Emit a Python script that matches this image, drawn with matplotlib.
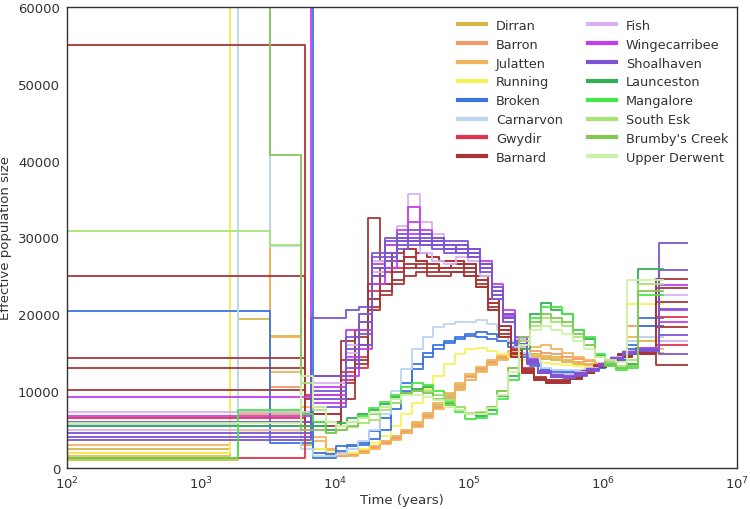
import matplotlib
matplotlib.use("Agg")
import matplotlib.pyplot as plt
import numpy as np

# --------------------------------------------------
# DATA  (times in years, Ne in thousands)
# --------------------------------------------------
# time breakpoints, northern clade (Gwydir/Barnard use the B grid)
GRID_N_A = [100, 6600, 12000, 15000, 19000, 23500, 29000, 35000, 43000, 53000,
            65000, 80000, 98000, 120000, 148000, 180000, 220000, 270000, 330000,
            410000, 500000, 620000, 760000, 930000, 1150000, 1400000, 1750000,
            2600000, 4200000]
GRID_N_B = [100, 5970, 11000, 14000, 17500, 21500, 26500, 32500, 40000, 49000,
            60000, 74000, 91000, 112000, 138000, 168000, 205000, 250000, 305000,
            375000, 460000, 570000, 700000, 860000, 1050000, 1300000, 1650000,
            2500000, 4200000]
# time breakpoints, southern / eastern clades
GRID_S = [100, 1650, 1900, 3300, 5600, 6800, 8500, 10200, 12300, 14800, 17800,
          21500, 26000, 31000, 37500, 45000, 54000, 65000, 78000, 94000, 113000,
          136000, 163000, 196000, 236000, 284000, 342000, 412000, 496000, 597000,
          718000, 865000, 1040000, 1250000, 1510000, 1820000, 2800000]

dirran_1 = [1.0, 1.0, 7.0, 7.0, 3.0, 2.0, 1.6, 1.6, 1.8, 2.2, 2.8, 3.4, 4.0, 4.8, 5.8, 7.0, 8.2, 9.5,
            10.8, 12.0, 13.0, 13.8, 14.4, 14.6, 14.6, 14.4, 14.2, 14.0, 13.8, 13.6, 13.4, 13.4, 13.8, 14.5, 16.5, 16.5]
dirran_2 = [2.5, 70, 19.4, 17.2, 4.0, 2.5, 2.0, 1.8, 1.7, 2.0, 2.6, 3.2, 3.8, 4.6, 5.5, 6.6, 7.8, 9.0,
            10.3, 11.5, 12.6, 13.5, 14.2, 14.6, 14.8, 14.8, 14.6, 14.4, 14.1, 13.8, 13.5, 13.4, 13.6, 14.2, 15.0, 15.0]
barron_1 = [2.0, 70, 70, 10.5, 5.0, 2.5, 1.8, 1.6, 1.7, 2.1, 2.7, 3.3, 3.9, 4.7, 5.6, 6.8, 8.0, 9.3,
            10.6, 11.8, 12.9, 13.8, 14.4, 14.8, 15.0, 15.2, 15.0, 14.8, 14.5, 14.2, 13.9, 13.6, 13.7, 14.3, 18.5, 18.5]
julatten_1 = [3.0, 70, 7.0, 12.5, 6.0, 3.5, 2.5, 2.0, 2.0, 2.3, 2.9, 3.5, 4.2, 5.0, 6.0, 7.2, 8.5, 9.8,
              11.0, 12.2, 13.2, 14.0, 14.6, 15.2, 15.5, 15.8, 16.0, 15.5, 15.0, 14.5, 14.0, 13.7, 13.8, 14.4, 17.0, 17.0]
julatten_2 = [1.5, 70, 70, 17.0, 8.0, 4.0, 2.3, 1.7, 1.6, 1.9, 2.5, 3.1, 3.7, 4.5, 5.4, 6.5, 7.7, 8.9,
              10.2, 11.4, 12.5, 13.4, 14.0, 14.4, 14.6, 14.6, 14.5, 14.3, 14.0, 13.7, 13.4, 13.3, 13.5, 14.1, 15.5, 15.5]
running_1 = [2.0, 80, 4.8, 4.8, 3.5, 2.5, 2.0, 1.8, 2.0, 2.5, 3.2, 4.2, 5.5, 7.0, 8.5, 10.3, 12.0, 13.5,
             14.8, 15.5, 15.6, 15.2, 14.8, 14.4, 14.1, 13.9, 13.7, 13.5, 13.4, 13.3, 13.2, 13.3, 13.6, 14.2, 21.4, 21.4]
broken_1 = [20.4, 20.4, 20.4, 3.2, 3.2, 1.3, 1.3, 2.8, 2.9, 3.0, 3.8, 5.0, 7.7, 10.0, 12.9, 14.5, 15.5, 16.3,
            16.8, 17.5, 17.7, 17.5, 17.0, 16.3, 14.8, 13.5, 12.9, 12.7, 12.6, 12.6, 12.8, 13.0, 13.5, 14.2, 16.0, 18.5]
broken_2 = [95, 95, 95, 95, 95, 2.0, 1.8, 2.2, 3.0, 3.3, 4.8, 6.5, 8.5, 11.0, 13.5, 15.0, 16.0, 16.5,
            17.0, 17.2, 17.0, 16.8, 16.5, 15.8, 14.5, 13.3, 12.7, 12.5, 12.4, 12.5, 12.7, 13.0, 13.4, 14.0, 15.5, 19.5]
carnarvon_1 = [5.7, 5.7, 95, 28.9, 2.5, 1.6, 1.6, 1.8, 2.5, 3.5, 5.0, 7.0, 10.0, 12.9, 15.5, 17.0, 18.3, 18.8,
               19.0, 19.0, 19.2, 18.8, 18.0, 16.5, 15.0, 13.8, 13.0, 12.8, 12.7, 12.7, 12.9, 13.2, 13.6, 14.3, 16.5, 17.0]

gwydir_1 = [6.5, 9.5, 11.5, 13.0, 22.0, 24.0, 26.0, 27.5, 28.0, 27.5, 27.0, 27.0, 26.5, 25.0, 22.0, 18.5,
            15.5, 13.0, 11.7, 11.3, 11.3, 11.8, 12.5, 13.3, 14.0, 14.8, 15.2, 19.7]
gwydir_2 = [1.3, 7.0, 12.5, 14.5, 23.0, 25.5, 27.0, 28.5, 27.0, 26.5, 26.0, 26.5, 26.0, 24.5, 21.5, 18.0,
            15.0, 12.8, 11.6, 11.2, 11.2, 11.7, 12.4, 13.2, 13.9, 14.7, 15.1, 16.0]
barnard_1 = [55.0, 12.0, 14.0, 16.0, 32.5, 27.0, 25.5, 26.5, 26.0, 25.5, 26.0, 26.0, 25.5, 24.0, 21.0, 17.5,
             14.8, 12.5, 11.6, 11.2, 11.2, 11.7, 12.4, 13.2, 13.9, 14.6, 15.0, 24.6]
barnard_2 = [25.0, 5.5, 12.0, 13.5, 20.5, 23.0, 24.5, 26.0, 26.5, 26.0, 25.5, 25.5, 25.0, 23.5, 20.5, 17.0,
             14.5, 12.3, 11.5, 11.1, 11.1, 11.6, 12.3, 13.1, 13.8, 14.5, 14.9, 13.4]
barnard_3 = [14.3, 9.0, 11.0, 17.0, 22.0, 24.0, 27.0, 27.5, 27.0, 26.5, 26.0, 26.5, 26.0, 24.5, 21.5, 18.0,
             15.0, 12.6, 11.7, 11.3, 11.3, 11.8, 12.5, 13.3, 14.0, 14.7, 15.1, 21.6]
barnard_4 = [13.0, 7.0, 16.5, 18.0, 24.0, 26.0, 28.0, 28.5, 28.0, 27.5, 27.0, 27.0, 26.5, 25.0, 22.0, 18.5,
             15.3, 12.9, 11.8, 11.4, 11.4, 11.9, 12.6, 13.4, 14.1, 14.8, 15.2, 18.4]
barnard_5 = [10.2, 6.0, 9.0, 14.0, 21.0, 22.5, 24.0, 25.0, 25.5, 25.0, 25.0, 25.5, 25.0, 23.5, 20.5, 17.0,
             14.5, 12.3, 11.5, 11.1, 11.1, 11.6, 12.3, 13.1, 13.8, 14.5, 14.9, 23.4]
fish_1 = [7.3, 9.0, 15.0, 19.0, 27.0, 29.0, 31.5, 35.7, 32.0, 30.5, 29.0, 28.5, 28.0, 26.5, 23.5, 20.0,
          16.8, 14.0, 12.6, 12.1, 12.0, 12.4, 13.0, 13.7, 14.4, 15.2, 15.6, 22.5]
fish_2 = [5.0, 11.0, 16.0, 20.0, 25.5, 27.0, 29.0, 30.0, 28.0, 27.0, 26.5, 27.5, 27.0, 25.0, 22.0, 19.0,
          15.8, 13.6, 12.5, 12.2, 12.2, 12.5, 13.0, 13.6, 14.2, 15.0, 15.4, 16.5]
winge_1 = [6.8, 8.5, 12.0, 15.5, 24.0, 26.0, 30.0, 34.0, 31.0, 30.0, 29.0, 29.0, 28.5, 27.0, 24.0, 20.5,
           17.0, 14.2, 12.6, 12.1, 11.9, 12.3, 12.9, 13.6, 14.3, 15.1, 15.6, 20.5]
winge_2 = [9.2, 10.5, 14.5, 18.0, 26.5, 29.0, 29.5, 30.5, 29.5, 29.0, 28.5, 28.0, 27.5, 26.0, 23.0, 19.5,
           16.2, 13.8, 12.4, 11.9, 11.8, 12.2, 12.8, 13.5, 14.2, 15.0, 15.4, 23.8]
winge_3 = [90, 9.5, 18.0, 19.0, 25.0, 28.0, 31.0, 32.0, 30.5, 29.5, 29.0, 28.5, 28.0, 26.5, 23.0, 19.8,
           16.5, 14.0, 12.5, 12.0, 11.9, 12.3, 12.9, 13.6, 14.3, 15.1, 15.5, 19.0]
shoal_1 = [4.0, 9.0, 17.0, 20.0, 28.0, 29.5, 30.5, 31.0, 30.5, 30.0, 29.5, 29.5, 28.5, 26.5, 23.0, 20.0,
           16.5, 14.0, 12.5, 12.0, 11.8, 12.2, 12.8, 13.5, 14.2, 15.0, 15.5, 29.3]
shoal_2 = [5.5, 12.0, 14.0, 17.5, 26.0, 27.5, 28.5, 29.0, 29.5, 29.0, 28.5, 28.0, 27.5, 25.5, 22.0, 19.0,
           16.0, 13.5, 12.3, 11.8, 11.7, 12.0, 12.6, 13.3, 14.0, 14.8, 15.2, 20.7]
shoal_3 = [3.6, 19.5, 20.5, 21.0, 25.0, 28.0, 29.5, 30.0, 29.0, 28.5, 28.0, 28.5, 28.0, 26.0, 22.5, 19.5,
           16.0, 13.8, 12.4, 11.9, 11.8, 12.1, 12.7, 13.4, 14.1, 14.9, 15.3, 17.3]
shoal_4 = [4.6, 8.0, 13.0, 16.0, 26.0, 27.0, 29.0, 29.5, 30.0, 29.5, 29.0, 28.5, 28.0, 26.0, 22.5, 19.5,
           16.2, 13.8, 12.5, 12.0, 11.9, 12.2, 12.8, 13.5, 14.2, 15.0, 15.4, 25.8]
shoal_5 = [6.0, 10.0, 15.5, 19.0, 27.5, 30.0, 30.0, 29.5, 29.0, 29.0, 28.5, 29.0, 28.5, 26.5, 23.5, 20.0,
           16.5, 14.0, 12.6, 12.1, 12.0, 12.3, 12.9, 13.6, 14.3, 15.1, 15.5, 14.8]

launceston_1 = [5.5, 5.5, 5.5, 5.5, 5.5, 5.5, 5.0, 5.8, 6.5, 7.0, 7.5, 8.3, 9.2, 9.8, 10.3, 10.5, 9.5, 8.5,
                8.0, 7.0, 6.8, 7.5, 9.4, 12.0, 15.5, 20.0, 21.5, 20.5, 20.0, 18.0, 16.8, 14.6, 13.5, 13.0, 13.5, 25.9]
mangalore_1 = [1.3, 1.3, 7.5, 7.5, 7.0, 6.0, 4.5, 5.5, 6.0, 6.8, 7.8, 8.6, 9.5, 10.5, 11.0, 10.8, 10.0, 8.6,
               7.3, 6.4, 6.5, 7.0, 9.0, 11.5, 16.0, 19.5, 21.0, 21.0, 20.0, 18.0, 17.0, 14.8, 13.3, 12.8, 13.0, 22.5]
southesk_1 = [30.8, 30.8, 30.8, 29.0, 11.0, 7.5, 6.0, 5.0, 5.3, 5.8, 6.3, 7.5, 8.5, 9.5, 10.0, 10.0, 9.5, 8.8,
              8.0, 7.2, 7.3, 8.0, 10.0, 13.0, 16.5, 18.5, 19.5, 19.0, 18.5, 17.0, 16.0, 14.5, 13.8, 13.3, 14.0, 24.0]
brumby_1 = [95, 95, 95, 40.8, 5.0, 5.0, 4.5, 5.0, 5.5, 6.5, 7.0, 8.0, 9.0, 9.8, 10.0, 9.8, 9.0, 8.2,
            7.5, 7.0, 7.2, 8.0, 10.0, 13.0, 17.0, 19.0, 20.0, 19.5, 19.0, 17.5, 16.0, 14.5, 13.5, 13.0, 13.3, 23.0]
derwent_1 = [5.8, 5.8, 5.8, 5.8, 12.0, 8.0, 6.0, 5.5, 6.0, 6.5, 7.2, 8.0, 9.0, 9.5, 9.5, 9.3, 8.8, 8.0,
             7.5, 7.0, 7.0, 7.8, 9.5, 12.5, 16.0, 18.0, 18.5, 18.0, 17.5, 16.5, 15.5, 14.5, 14.0, 13.8, 24.5, 24.5]

# population -> (time grid, replicate curves)
POPULATIONS = [
    ("Dirran", GRID_S, [dirran_1, dirran_2]),
    ("Barron", GRID_S, [barron_1]),
    ("Julatten", GRID_S, [julatten_1, julatten_2]),
    ("Running", GRID_S, [running_1]),
    ("Broken", GRID_S, [broken_1, broken_2]),
    ("Carnarvon", GRID_S, [carnarvon_1]),
    ("Gwydir", GRID_N_B, [gwydir_1, gwydir_2]),
    ("Barnard", GRID_N_B, [barnard_1, barnard_2, barnard_3, barnard_4, barnard_5]),
    ("Fish", GRID_N_A, [fish_1, fish_2]),
    ("Wingecarribee", GRID_N_A, [winge_1, winge_2, winge_3]),
    ("Shoalhaven", GRID_N_A, [shoal_1, shoal_2, shoal_3, shoal_4, shoal_5]),
    ("Launceston", GRID_S, [launceston_1]),
    ("Mangalore", GRID_S, [mangalore_1]),
    ("South Esk", GRID_S, [southesk_1]),
    ("Brumby's Creek", GRID_S, [brumby_1]),
    ("Upper Derwent", GRID_S, [derwent_1]),
]

# --------------------------------------------------
# STYLE
# --------------------------------------------------
COLORS = {
    "Dirran": "#d6b84c",
    "Barron": "#f09a6a",
    "Julatten": "#f5b25c",
    "Running": "#f7f25a",
    "Broken": "#3a76e2",
    "Carnarvon": "#bcd6f5",
    "Gwydir": "#e0344e",
    "Barnard": "#a83636",
    "Fish": "#d9b2f5",
    "Wingecarribee": "#c43ef0",
    "Shoalhaven": "#7c55d4",
    "Launceston": "#34b054",
    "Mangalore": "#44e844",
    "South Esk": "#a6e474",
    "Brumby's Creek": "#84c854",
    "Upper Derwent": "#cbf2a6",
}
TEXT = "#333333"
FS = 9.5

# --------------------------------------------------
# PLOT
# --------------------------------------------------
fig = plt.figure(figsize=(7.5, 5.1), dpi=100)
ax = fig.add_axes([67 / 750, 1 - 469 / 510, 670 / 750, 461 / 510])

for name, grid, curves in POPULATIONS:
    for i, vals in enumerate(curves):
        ne = np.array(vals + [vals[-1]]) * 1000
        ax.step(grid, ne, where="post", color=COLORS[name], lw=1.3,
                label=name if i == 0 else None)

ax.set_xscale("log")
ax.set_xlim(1e2, 1e7)
ax.set_ylim(0, 60000)
ax.set_yticks(range(0, 60001, 10000))
ax.set_xlabel("Time (years)", fontsize=FS, color=TEXT, labelpad=1)
ax.set_ylabel("Effective population size", fontsize=FS, color=TEXT, labelpad=4)
ax.tick_params(axis="y", length=0, labelsize=FS, labelcolor=TEXT, pad=5)
ax.tick_params(axis="x", length=0, labelsize=FS, labelcolor=TEXT, pad=5)
ax.minorticks_off()
for s in ax.spines.values():
    s.set_color("#333333")
    s.set_linewidth(1.0)

leg = ax.legend(ncol=2, loc="upper left", frameon=False, fontsize=9.3,
                handlelength=2.17, handletextpad=0.78, columnspacing=1.9,
                labelspacing=0.45, borderpad=0, borderaxespad=0,
                bbox_to_anchor=(458 / 750, 1 - 20 / 510),
                bbox_transform=fig.transFigure)
for h in leg.get_lines():
    h.set_linewidth(3)
for t in leg.get_texts():
    t.set_color(TEXT)

fig.savefig("out.png", dpi=100)
